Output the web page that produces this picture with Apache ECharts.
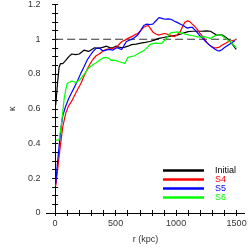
<!DOCTYPE html>
<html><head><meta charset="utf-8">
<script src="https://cdn.jsdelivr.net/npm/echarts@6/dist/echarts.min.js"></script>
<style>html,body{margin:0;padding:0;background:#fff}#c{width:249px;height:249px}</style>
</head><body><div id="c"></div>
<script>
const xTickLabels = [0, 500, 1000, 1500];
const xMinorTicks = [0,100,200,300,400,500,600,700,800,900,1000,1100,1200,1300,1400,1500];
const seriesNames = ['Initial', 'S4', 'S5', 'S6'];
const seriesColors = ['#000000', '#ff0000', '#0000ff', '#00ff00'];

const initialR = [5,20,33,45,55,63,75,88,100,113,125,138,170,200,238,276,326,364,400,426,451,476,502,527,552,577,602,632,670,707,745,783,820,858,895,933,970,1008,1040,1071,1100,1134,1170,1209,1250,1284,1310,1334,1360,1384,1410,1435,1465,1497];
const initialK = [0.62,0.75,0.84,0.86,0.87,0.86,0.85,0.878,0.887,0.9,0.905,0.915,0.912,0.915,0.937,0.93,0.951,0.948,0.955,0.96,0.952,0.951,0.96,0.955,0.951,0.955,0.96,0.969,0.972,0.978,0.982,0.987,0.995,1.005,1.01,1.015,1.02,1.024,1.03,1.038,1.044,1.046,1.046,1.046,1.048,1.046,1.035,1.024,1.026,1.024,1.012,0.997,0.97,0.942];

const s4R = [5,25,43,63,88,110,138,163,188,213,238,263,288,314,339,364,389,414,451,476,502,527,552,577,602,632,657,682,707,732,750,770,790,807,832,858,883,908,945,983,1008,1033,1052,1071,1085,1096,1115,1134,1152,1171,1196,1221,1240,1259,1284,1309,1334,1359,1378,1397,1416,1435,1465,1497];
const s4K = [0.155,0.277,0.386,0.496,0.575,0.615,0.645,0.68,0.714,0.745,0.787,0.825,0.858,0.885,0.905,0.915,0.928,0.94,0.945,0.948,0.951,0.97,0.987,0.995,1.005,1.015,1.025,1.033,1.05,1.069,1.075,1.079,1.06,1.042,1.03,1.024,1.03,1.033,1.025,1.015,1.025,1.042,1.07,1.097,1.104,1.106,1.1,1.087,1.075,1.06,1.035,1.015,0.995,0.978,0.962,0.951,0.95,0.955,0.965,0.973,0.98,0.987,0.993,0.997];

const s5R = [5,18,33,50,63,85,113,138,163,188,213,238,263,288,314,339,364,389,414,439,457,476,495,514,533,552,570,589,608,627,657,682,707,732,758,783,807,832,858,883,908,933,958,983,1008,1033,1058,1077,1096,1115,1134,1152,1171,1196,1221,1246,1271,1296,1322,1340,1359,1378,1397,1416,1435,1460,1485];
const s5K = [0.168,0.277,0.386,0.496,0.56,0.61,0.66,0.695,0.73,0.765,0.805,0.84,0.878,0.905,0.93,0.948,0.951,0.935,0.935,0.942,0.94,0.937,0.945,0.951,0.945,0.942,0.965,0.987,0.993,0.997,1.01,1.024,1.05,1.079,1.087,1.085,1.087,1.105,1.124,1.12,1.115,1.117,1.115,1.105,1.097,1.088,1.079,1.07,1.064,1.068,1.069,1.055,1.042,1.02,1.005,0.985,0.969,0.955,0.942,0.935,0.933,0.94,0.951,0.96,0.969,0.98,0.991];

const s6R = [5,33,50,63,75,88,100,113,138,157,176,200,220,238,257,276,295,314,333,351,370,389,414,426,445,464,483,502,520,539,558,577,590,602,627,657,682,707,732,758,783,808,833,858,883,900,920,940,958,983,1008,1033,1058,1083,1108,1140,1171,1200,1234,1260,1284,1310,1334,1353,1372,1390,1410,1428,1447,1470,1497];
const s6K = [0.42,0.42,0.5,0.58,0.66,0.71,0.745,0.755,0.76,0.755,0.752,0.765,0.78,0.796,0.815,0.833,0.845,0.855,0.862,0.87,0.88,0.89,0.896,0.9,0.89,0.878,0.88,0.878,0.872,0.869,0.865,0.86,0.88,0.896,0.9,0.905,0.915,0.925,0.933,0.95,0.969,0.975,0.978,0.976,0.978,0.99,1.005,1.025,1.038,1.04,1.042,1.038,1.033,1.028,1.024,1.02,1.015,1.012,1.015,1.01,1.005,1.015,1.024,1.026,1.024,1.015,1.005,0.995,0.987,0.97,0.951];

const refR = [0, 1500];
const refK = [1, 1];

const rs = [initialR, s4R, s5R, s6R];
const ks = [initialK, s4K, s5K, s6K];
const zip = (a, b) => a.map((v, i) => [v, b[i]]);

const font = 'Liberation Sans, Arial, sans-serif';
const axisLine = {show: true, lineStyle: {color: '#000', width: 1}};

const chart = echarts.init(document.getElementById('c'), null, {renderer: 'canvas'});
const series = seriesNames.map((n, i) => ({
  name: n, type: 'line', data: zip(rs[i], ks[i]), showSymbol: false, symbol: 'none',
  lineStyle: {color: seriesColors[i], width: 1.2}, itemStyle: {color: seriesColors[i]},
  animation: false, z: 3 + i
}));
series.unshift({
  name: 'ref', type: 'line', data: zip(refR, refK), symbol: 'none',
  lineStyle: {color: '#333', width: 1.2, type: [8, 4]}, animation: false, z: 2
});

chart.setOption({
  animation: false,
  grid: {left: 30.5, right: 1, top: 1, bottom: 28.3, containLabel: false},
  legend: {
    orient: 'vertical', left: 158, top: 161, itemWidth: 41, itemHeight: 2.5, itemGap: 0,
    icon: 'rect',
    textStyle: {fontFamily: font, fontSize: 9, lineHeight: 9, padding: [0, 0, 0, 6]},
    data: seriesNames.map((n, i) => ({name: n, textStyle: {color: seriesColors[i]}}))
  },
  xAxis: [{
    type: 'value', min: -72, max: 1565, position: 'bottom',
    axisLine: axisLine, splitLine: {show: false},
    axisTick: {show: true, inside: true, length: 3, customValues: xMinorTicks, lineStyle: {color: '#000'}},
    axisLabel: {customValues: xTickLabels, formatter: v => String(v), fontFamily: font, fontSize: 9, color: '#333', margin: 6},
    name: 'r (kpc)', nameLocation: 'middle', nameGap: 22,
    nameTextStyle: {fontFamily: font, fontSize: 9, color: '#333'}
  }, {
    type: 'value', min: -72, max: 1565, position: 'top',
    axisLine: axisLine, splitLine: {show: false},
    axisTick: {show: true, inside: true, length: 3, customValues: xMinorTicks, lineStyle: {color: '#000'}},
    axisLabel: {show: false}
  }],
  yAxis: [{
    type: 'value', min: 0, max: 1.2, interval: 0.2, position: 'left',
    axisLine: axisLine, splitLine: {show: false},
    axisTick: {show: true, inside: true, length: 3, lineStyle: {color: '#000'}},
    minorTick: {show: true, splitNumber: 4, length: 3, lineStyle: {color: '#000'}},
    axisLabel: {fontFamily: font, fontSize: 9, color: '#333', margin: 6},
    name: 'κ', nameLocation: 'middle', nameGap: 27, nameRotate: 90,
    nameTextStyle: {fontFamily: font, fontSize: 9, color: '#333'}
  }, {
    type: 'value', min: 0, max: 1.2, interval: 0.2, position: 'right',
    axisLine: axisLine, splitLine: {show: false},
    axisTick: {show: true, inside: true, length: 3, lineStyle: {color: '#000'}},
    minorTick: {show: true, splitNumber: 4, length: 3, lineStyle: {color: '#000'}},
    axisLabel: {show: false}
  }],
  series: series
});
</script></body></html>
